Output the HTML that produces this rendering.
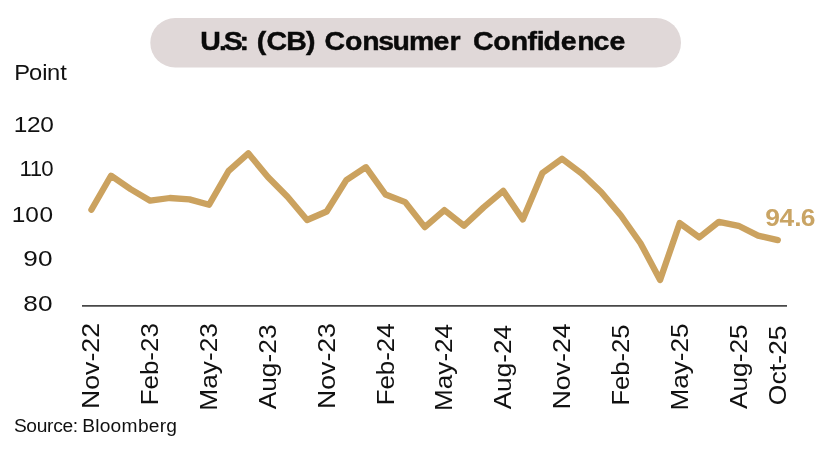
<!DOCTYPE html>
<html><head><meta charset="utf-8"><title>U.S: (CB) Consumer Confidence</title>
<style>
html,body{margin:0;padding:0;background:#fff;}
body{width:840px;height:450px;overflow:hidden;font-family:"Liberation Sans",sans-serif;}
svg{display:block}
text{font-family:"Liberation Sans",sans-serif;fill:#111;font-kerning:none;white-space:pre}
</style></head><body>
<svg width="840" height="450" viewBox="0 0 840 450">
<rect x="150.3" y="18" width="530.7" height="49.5" rx="24.75" ry="24.75" fill="#e0d8d8"/>
<line x1="82" y1="305.9" x2="787" y2="305.9" stroke="#484848" stroke-width="1.9"/>
<polyline points="91.4,209.7 111.0,175.7 130.6,189.1 150.2,200.7 169.8,198.0 189.4,199.4 209.1,204.8 228.7,170.8 248.3,153.3 267.9,177.0 287.5,196.7 307.1,220.0 326.7,211.5 346.3,180.2 365.9,167.2 385.5,194.5 405.2,202.1 424.8,227.1 444.4,210.1 464.0,225.8 483.6,207.4 503.2,190.9 522.8,219.5 542.4,173.0 562.0,158.7 581.6,173.4 601.3,192.2 620.9,215.5 640.5,243.2 660.1,279.9 679.7,223.1 699.3,237.4 718.9,221.8 738.5,225.8 758.1,235.6 777.8,240.1" fill="none" stroke="#cba25f" stroke-width="6.3" stroke-linejoin="round" stroke-linecap="round"/>
<text transform="scale(1.0700,1)" x="187.18 204.59 209.16 223.94 232.79 240.06 249.00 267.49 286.03 294.89 303.30 322.34 338.55 353.48 366.93 382.19 405.11 420.18 430.53 442.13 461.03 477.24 492.98 501.69 508.05 524.17 539.44 554.67 569.69" y="50.1" font-size="26.6" font-weight="bold" style="fill:#0a0a0a;stroke:#0a0a0a;stroke-width:0.45">U.S: (CB) Consumer Confidence</text>
<text transform="scale(1.0996,1)" x="12.94 26.41 38.41 42.74 54.89" y="79.7" font-size="21.6">Point</text>
<text transform="scale(1.1000,1)" x="12.57 24.51 36.69" y="131.7" font-size="22.2">120</text>
<text transform="scale(1.0000,1)" x="19.47 29.87 41.13" y="176.2" font-size="22.2">110</text>
<text transform="scale(1.1000,1)" x="10.57 22.96 35.96" y="221.6" font-size="22.2">100</text>
<text transform="scale(1.1800,1)" x="19.72 32.13" y="266.4" font-size="22.2">90</text>
<text transform="scale(1.1800,1)" x="19.72 32.13" y="310.8" font-size="22.2">80</text>
<text transform="scale(1.1230,1)" x="681.52 694.06 707.30 712.96" y="226.0" font-size="23.5" font-weight="bold" style="fill:#c9a464">94.6</text>
<text transform="scale(1.0325,1)" x="13.50 25.52 35.51 45.56 51.50 60.48 70.56 75.72 79.66 92.25 96.56 107.15 117.80 133.61 144.19 154.74 161.12" y="432.1" font-size="18.6">Source: Bloomberg</text>
<text transform="translate(99.4,0) rotate(-90) scale(1.0849,1)" x="-376.99" y="0" font-size="24.6">Nov-22</text>
<text transform="translate(158.2,0) rotate(-90) scale(1.0542,1)" x="-384.50" y="0" font-size="24.6">Feb-23</text>
<text transform="translate(217.1,0) rotate(-90) scale(1.0680,1)" x="-384.58" y="0" font-size="24.6">May-23</text>
<text transform="translate(275.9,0) rotate(-90) scale(1.0704,1)" x="-382.43" y="0" font-size="24.6">Aug-23</text>
<text transform="translate(334.7,0) rotate(-90) scale(1.0826,1)" x="-377.76" y="0" font-size="24.6">Nov-23</text>
<text transform="translate(393.5,0) rotate(-90) scale(1.0518,1)" x="-385.37" y="0" font-size="24.6">Feb-24</text>
<text transform="translate(452.4,0) rotate(-90) scale(1.0619,1)" x="-386.98" y="0" font-size="24.6">May-24</text>
<text transform="translate(511.2,0) rotate(-90) scale(1.0629,1)" x="-385.12" y="0" font-size="24.6">Aug-24</text>
<text transform="translate(570.0,0) rotate(-90) scale(1.0880,1)" x="-376.47" y="0" font-size="24.6">Nov-24</text>
<text transform="translate(628.9,0) rotate(-90) scale(1.0388,1)" x="-390.35" y="0" font-size="24.6">Feb-25</text>
<text transform="translate(687.7,0) rotate(-90) scale(1.0623,1)" x="-386.45" y="0" font-size="24.6">May-25</text>
<text transform="translate(746.5,0) rotate(-90) scale(1.0684,1)" x="-382.85" y="0" font-size="24.6">Aug-25</text>
<text transform="translate(785.8,0) rotate(-90) scale(1.0792,1)" x="-375.42" y="0" font-size="24.6">Oct-25</text>
</svg>
</body></html>
